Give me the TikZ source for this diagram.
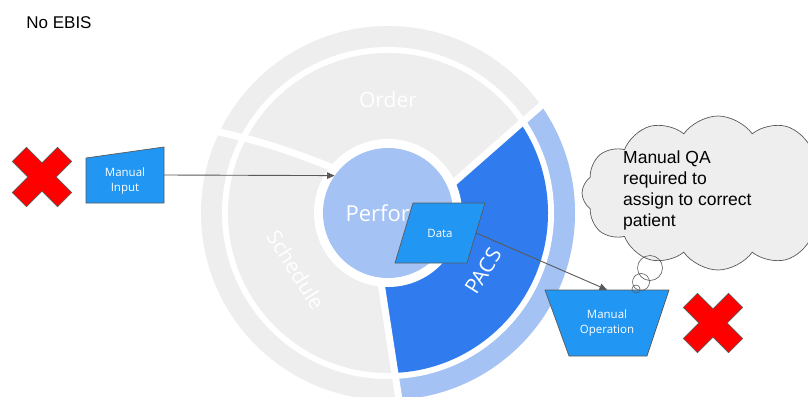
\documentclass[tikz,border=0pt]{standalone}
\usepackage{fontspec}
\setmainfont{Liberation Sans}
\newfontfamily\robo{Open Sans}
\usetikzlibrary{shapes.symbols,arrows.meta,calc}
\definecolor{ringgray}{HTML}{EEEEEE}
\definecolor{lblue}{HTML}{A4C2F4}
\definecolor{dblue}{HTML}{307CEF}
\definecolor{sblue}{HTML}{2196F3}
\definecolor{edgegray}{HTML}{595959}
\definecolor{cloudgray}{HTML}{EEEEEE}
\definecolor{xred}{HTML}{FF0000}
\tikzset{
  ringlabel/.style={text=white, font=\robo\fontsize{21}{24}\selectfont, inner sep=0},
  shapefill/.style={fill=sblue, draw=edgegray, line width=0.7},
  boxtext/.style={text=white, font=\robo\fontsize{11.5}{15.5}\selectfont, align=center, inner sep=0},
  holder/.style={draw=none, fill=none, inner sep=0},
  conn/.style={draw=edgegray, line width=0.9, -{Triangle[length=7.5pt,width=6.5pt]}},
  gapline/.style={draw=white, line width=7},
  bubble/.style={circle, draw=edgegray, line width=0.6, inner sep=0},
  redx/.pic={\filldraw[fill=xred, draw=edgegray, line width=0.6, rotate=45]
     (10,32) -- (10,10) -- (32,10) -- (32,-10) -- (10,-10) -- (10,-32) -- (-10,-32) -- (-10,-10) -- (-32,-10) -- (-32,10) -- (-10,10) -- (-10,32) -- cycle;}
}
\begin{document}
\begin{tikzpicture}[x=1pt,y=1pt]
\useasboundingbox (0,0) rectangle (808,-396);
\clip (0,0) rectangle (808,-396);
\coordinate (C) at (388,-213);
\coordinate (Aout) at ($(C)+(163,116)$);
\coordinate (Ain) at ($(C)+(64,29)$);
\coordinate (Sout) at ($(C)+(-183,84)$);
\coordinate (Sin) at ($(C)+(-55,45)$);
\coordinate (Pout) at ($(C)+(13,-200)$);
\coordinate (Pin) at ($(C)+(-7,-70)$);
% outer band
\fill[ringgray] (C) circle[radius=187];
\begin{scope}
  \clip (C) circle[radius=187];
  \fill[lblue] (Aout) -- (Ain) -- (C) -- (Pin) -- (Pout) arc[start angle=-86.3, end angle=35.4, radius=200] -- cycle;
\end{scope}
\fill[white] (C) circle[radius=166];
% inner band
\fill[ringgray] (C) circle[radius=160];
\begin{scope}
  \clip (C) circle[radius=160];
  \fill[dblue] (Aout) -- (Ain) -- (C) -- (Pin) -- (Pout) arc[start angle=-86.3, end angle=35.4, radius=200] -- cycle;
\end{scope}
\fill[white] (C) circle[radius=74];
\draw[gapline] (Aout) -- (Ain);
\draw[gapline] (Sout) to[bend left=5] (Sin);
\draw[gapline] (Pout) -- (Pin);
% centre and labels
\node[circle, fill=lblue, minimum size=130, inner sep=0, text=white, font=\robo\fontsize{22}{26}\selectfont] (perf) at (C) {Perform};
\node[ringlabel] (order) at (388,-100) {Order};
\node[ringlabel, rotate=-58] (sched) at (296,-270) {Schedule};
\node[ringlabel, rotate=58] (pacs) at (483,-271) {PACS};
% Data
\node[holder, minimum width=72, minimum height=60] (data) at (440,-233) {};
\filldraw[shapefill] ($(data.center)+(-27,30)$) -- ($(data.center)+(45,30)$) -- ($(data.center)+(27,-30)$) -- ($(data.center)+(-45,-30)$) -- cycle;
\node[boxtext] (datatext) at (data.center) {Data};
% Manual input
\node[holder, minimum width=78, minimum height=56] (mi) at (125,-175) {};
\filldraw[shapefill] ($(mi.center)+(-39,17)$) -- ($(mi.center)+(39,28)$) -- ($(mi.center)+(39,-28)$) -- ($(mi.center)+(-39,-28)$) -- cycle;
\node[boxtext] (mitext) at (125,-181) {Manual\\Input};
% Manual operation
\node[holder, minimum width=124, minimum height=66] (mo) at (607,-323) {};
\filldraw[shapefill] ($(mo.center)+(-62,33)$) -- ($(mo.center)+(62,33)$) -- ($(mo.center)+(40,-33)$) -- ($(mo.center)+(-38,-33)$) -- cycle;
\node[boxtext] (motext) at (607,-323) {Manual\\Operation};
% cloud
\node[cloud, cloud puffs=12, cloud puff arc=110, aspect=1.7, draw=edgegray, fill=cloudgray, line width=0.7, minimum width=272, minimum height=154, inner sep=0] (qa) at (718,-193) {};
\node[anchor=west, align=left, inner sep=0, font=\fontsize{17.5}{21}\selectfont] (qatext) at (623,-190) {Manual QA\\required to\\assign to correct\\patient};
\node[bubble, minimum size=25] (b1) at (650,-268) {};
\node[bubble, minimum size=17] (b2) at (641,-282) {};
\node[bubble, minimum size=8] (b3) at (636,-289) {};
% red crosses
\pic (xl) at (42,-177) {redx};
\pic (xr) at (713,-323) {redx};
% title
\node[font=\fontsize{17}{20}\selectfont, inner sep=0] (title) at (59,-23) {No EBIS};
% connectors
\draw[conn] (mi.east) -- (perf.145);
\draw[conn] (data.east) -- (mo.north);
\end{tikzpicture}
\end{document}
